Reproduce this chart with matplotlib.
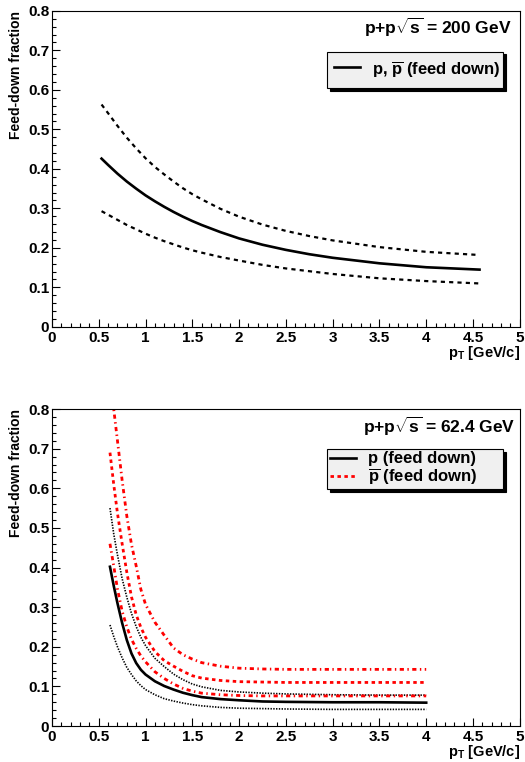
import numpy as np
import matplotlib
matplotlib.use('Agg')
import matplotlib.pyplot as plt
from matplotlib.ticker import MultipleLocator

plt.rcParams.update({
    'font.family': 'Liberation Sans',
    'font.weight': 'bold',
    'mathtext.fontset': 'custom',
    'mathtext.rm': 'Liberation Sans:bold',
    'mathtext.bf': 'Liberation Sans:bold',
    'mathtext.it': 'Liberation Sans:bold',
    'mathtext.sf': 'Liberation Sans:bold',
    'lines.scale_dashes': False,
})

# p+p 200 GeV, p and pbar feed-down fraction with upper/lower bands
pt200 = [0.53, 0.6, 0.7, 0.8, 0.9, 1.0, 1.1, 1.2, 1.3, 1.4, 1.5, 1.6, 1.8, 2.0, 2.25,
         2.5, 2.75, 3.0, 3.5, 4.0, 4.57]
fd200 = [0.426, 0.410, 0.388, 0.368, 0.350, 0.333, 0.318, 0.304, 0.291, 0.279, 0.268,
         0.258, 0.240, 0.224, 0.208, 0.195, 0.184, 0.175, 0.161, 0.151, 0.145]
fd200_hi = [0.563, 0.541, 0.509, 0.479, 0.452, 0.427, 0.405, 0.386, 0.368, 0.351, 0.336,
            0.323, 0.299, 0.279, 0.259, 0.243, 0.230, 0.219, 0.202, 0.190, 0.182]
fd200_lo = [0.293, 0.284, 0.271, 0.258, 0.247, 0.236, 0.226, 0.217, 0.209, 0.201, 0.194,
            0.188, 0.177, 0.168, 0.157, 0.148, 0.141, 0.134, 0.123, 0.116, 0.110]

# p+p 62.4 GeV
pt62 = [0.62, 0.66, 0.70, 0.75, 0.80, 0.85, 0.90, 0.95, 1.0, 1.1, 1.2, 1.3, 1.4, 1.5,
        1.6, 1.8, 2.0, 2.25, 2.5, 3.0, 3.5, 4.0]
p62 = [0.402, 0.354, 0.310, 0.260, 0.217, 0.183, 0.159, 0.142, 0.130, 0.113, 0.101, 0.092,
       0.084, 0.078, 0.073, 0.068, 0.065, 0.062, 0.061, 0.060, 0.060, 0.059]
p62_hi = [0.550, 0.485, 0.432, 0.372, 0.325, 0.284, 0.251, 0.224, 0.203, 0.171, 0.150, 0.131,
          0.117, 0.106, 0.099, 0.090, 0.086, 0.083, 0.081, 0.079, 0.078, 0.078]
p62_lo = [0.255, 0.226, 0.200, 0.172, 0.148, 0.130, 0.114, 0.102, 0.092, 0.079, 0.069, 0.063,
          0.058, 0.054, 0.051, 0.047, 0.045, 0.044, 0.043, 0.042, 0.042, 0.042]
pbar62 = [0.690, 0.610, 0.537, 0.460, 0.388, 0.326, 0.281, 0.249, 0.224, 0.188, 0.165, 0.151,
          0.138, 0.127, 0.121, 0.115, 0.112, 0.111, 0.110, 0.110, 0.110, 0.110]
pbar62_hi = [0.880, 0.800, 0.720, 0.620, 0.530, 0.458, 0.404, 0.345, 0.307, 0.262, 0.229, 0.197,
             0.180, 0.169, 0.160, 0.151, 0.146, 0.144, 0.143, 0.143, 0.143, 0.143]
pbar62_lo = [0.460, 0.404, 0.346, 0.290, 0.250, 0.219, 0.196, 0.177, 0.162, 0.137, 0.120, 0.106,
             0.095, 0.088, 0.083, 0.079, 0.077, 0.076, 0.076, 0.076, 0.076, 0.076]


def style_axes(ax, title, title_x):
    ax.set_xlim(0, 5)
    ax.set_ylim(0, 0.8)
    ax.xaxis.set_major_locator(MultipleLocator(0.5))
    ax.xaxis.set_minor_locator(MultipleLocator(0.1))
    ax.yaxis.set_major_locator(MultipleLocator(0.1))
    ax.yaxis.set_minor_locator(MultipleLocator(0.02))
    ax.xaxis.set_major_formatter(matplotlib.ticker.FuncFormatter(lambda v, p: ('%g' % v)))
    ax.yaxis.set_major_formatter(matplotlib.ticker.FuncFormatter(lambda v, p: ('%g' % v)))
    ax.tick_params(which='both', direction='in', top=False, right=False, width=0.8,
                   labelsize=11)
    ax.tick_params(which='major', length=6)
    ax.tick_params(which='minor', length=3)
    ax.tick_params(axis='x', pad=3)
    ax.tick_params(axis='y', pad=2)
    for s in ax.spines.values():
        s.set_linewidth(0.8)
    ax.set_ylabel('Feed-down fraction', fontsize=10, fontweight='bold', loc='top')
    ax.yaxis.set_label_coords(-0.062, 1.0)
    ax.set_xlabel(r'p$_\mathrm{T}$ [GeV/c]', fontsize=10.5, fontweight='bold', loc='right')
    ax.xaxis.set_label_coords(1.0, -0.054)
    ax.xaxis.label.set_va('top')
    ax.text(title_x, 0.946, title, transform=ax.transAxes, ha='right', va='center',
            fontsize=12.5, fontweight='bold')


fig = plt.figure(figsize=(5.25, 7.62), dpi=100)
ax1 = fig.add_axes([0.099, 0.571, 0.891, 0.4147])
ax2 = fig.add_axes([0.099, 0.0472, 0.891, 0.416])

dash = (0, (3, 3))
ax1.plot(pt200, fd200, color='black', lw=1.9, label=r'p, $\overline{\mathrm{p}}$ (feed down)')
ax1.plot(pt200, fd200_hi, color='black', lw=1.6, linestyle=dash)
ax1.plot(pt200, fd200_lo, color='black', lw=1.6, linestyle=dash)
style_axes(ax1, r'p+p$\sqrt{\mathrm{s}}$ = 200 GeV', 0.982)

dot = (0, (1, 1))
reddash = (0, (2.5, 2.5))
reddashdot = (0, (3, 2.5, 1, 2.5))
ax2.plot(pt62, p62, color='black', lw=1.9, label='p (feed down)')
ax2.plot(pt62, p62_hi, color='black', lw=1.2, linestyle=dot)
ax2.plot(pt62, p62_lo, color='black', lw=1.2, linestyle=dot)
ax2.plot(pt62, pbar62, color='red', lw=2.0, linestyle=reddash,
         label=r'$\overline{\mathrm{p}}$ (feed down)')
ax2.plot(pt62, pbar62_hi, color='red', lw=2.0, linestyle=reddashdot)
ax2.plot(pt62, pbar62_lo, color='red', lw=2.0, linestyle=reddashdot)
style_axes(ax2, r'p+p$\sqrt{\mathrm{s}}$ = 62.4 GeV', 0.990)

shadow = {'color': 'black', 'alpha': 1.0}
legend_opts = [
    (ax1, (0.588, 0.75, 0.376, 0.127), 0.4, 1.75, 0.25),
    (ax2, (0.588, 0.748, 0.376, 0.126), 0.15, 0.7, 0.0),
]
for ax, anchor, bpad, hheight, lspace in legend_opts:
    leg = ax.legend(loc='center', bbox_to_anchor=anchor, mode='expand', fontsize=12,
                    frameon=True, fancybox=False, shadow=shadow, facecolor='#f0f0f0',
                    edgecolor='black', framealpha=1, handlelength=1.6, handletextpad=0.7,
                    handleheight=hheight, borderpad=bpad, labelspacing=lspace,
                    borderaxespad=0)
    leg.get_frame().set_linewidth(0.8)

plt.savefig('out.png', dpi=100)
